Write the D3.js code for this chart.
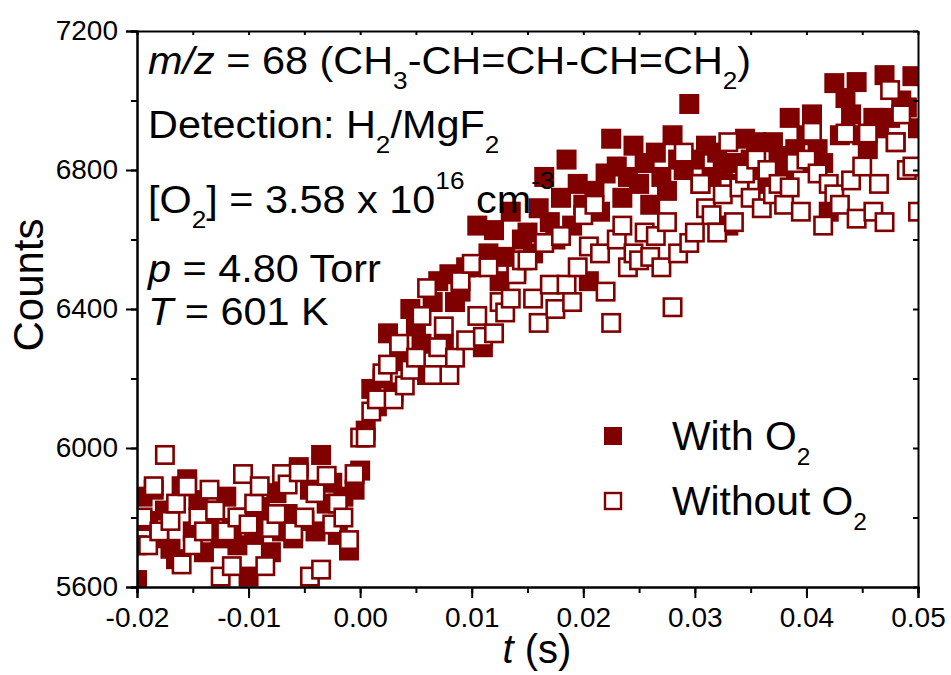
<!DOCTYPE html>
<html>
<head>
<meta charset="utf-8">
<script src="https://cdn.jsdelivr.net/npm/d3@7/dist/d3.min.js"></script>
<style>
  html, body { margin: 0; padding: 0; background: #fff; }
  svg { display: block; font-family: "Liberation Sans", Arial, sans-serif; }
</style>
</head>
<body>
<svg id="chart" width="951" height="675"></svg>
<script>
// ---- data ----
const tStart = -0.02, tStep = 0.0005;   // sample times: tStart + i*tStep
const withO2 = [
  5620, 5860, 5790, 5880, 5740, 5820, 5710, 5680, 5890, 5910,
  5760, 5850, 5700, 5790, 5820, 5740, 5860, 5770, 5720, 5800,
  5630, 5750, 5830, 5780, 5700, 5870, 5760, 5810, 5740, 5945,
  5790, 5880, 5760, 5980, 5840, 5900, 5750, 5860, 5705, 5880,
  5935, 6050, 6170, 6120, 6200, 6330, 6160, 6280, 6250, 6400,
  6350, 6300, 6210, 6420, 6480, 6300, 6500, 6420, 6450, 6520,
  6520, 6640, 6290, 6560, 6627, 6480, 6550, 6680, 6510, 6600,
  6620, 6560, 6690, 6780, 6650, 6600, 6720, 6830, 6640, 6760,
  6700, 6480, 6740, 6680, 6790, 6890, 6810, 6720, 6780, 6870,
  6760, 6820, 6700, 6850, 6780, 6740, 6900, 6830, 6800, 6990,
  6830, 6760, 6870, 6780, 6850, 6800, 6640, 6820, 6760, 6890,
  6830, 6880, 6800, 6760, 6880, 6840, 6790, 6950, 6860, 6820,
  6900, 6960, 6860, 6820, 6680, 7050, 6900, 7007, 6960, 7053,
  6900, 6860, 6950, 6920, 7073, 6950, 6880, 7000, 6980, 7070,
  6920
];
const withoutO2 = [
  5720, 5800, 5720, 5890, 5760, 5980, 5790, 5840, 5665, 5890,
  5720, 5800, 5760, 5880, 5820, 5630, 5760, 5660, 5800, 5925,
  5780, 5840, 5890, 5660, 5770, 5810, 5925, 5895, 5760, 5930,
  5800, 5630, 5870, 5650, 5920, 5780, 5840, 5800, 5735, 5925,
  6030, 6030, 6105, 6140, 6215, 6240, 6140, 6300, 6180, 6225,
  6260, 6380, 6460, 6210, 6290, 6350, 6210, 6260, 6480, 6310,
  6530, 6380, 6320, 6520, 6330, 6420, 6390, 6430, 6500, 6540,
  6540, 6430, 6360, 6590, 6470, 6400, 6610, 6470, 6420, 6520,
  6670, 6580, 6700, 6560, 6450, 6360, 6600, 6640, 6520, 6560,
  6540, 6620, 6550, 6610, 6520, 6650, 6405, 6560, 6850, 6590,
  6620, 6760, 6690, 6670, 6620, 6730, 6880, 6650, 6750, 6790,
  6720, 6830, 6690, 6800, 6730, 6760, 6700, 6750, 6820, 6680,
  6830, 6910, 6790, 6640, 6760, 6730, 6700, 6905, 6770, 6660,
  6810, 6905, 6680, 6760, 6650, 7030, 6880, 6960, 6800, 6810,
  6680
];
const xTicks = [-0.02, -0.01, 0.00, 0.01, 0.02, 0.03, 0.04, 0.05];
const yTicks = [5600, 6000, 6400, 6800, 7200];
const legendLabels = ["With O", "Without O"];

// ---- layout ----
const W = 951, H = 675;
const L = 137, R = 918, T = 31, B = 587;
const color = "#800000";
const svg = d3.select("#chart");

const x = d3.scaleLinear().domain([-0.02, 0.05]).range([L, R]);
const y = d3.scaleLinear().domain([5600, 7200]).range([B, T]);

const toPts = arr => arr.map((v, i) => ({ t: tStart + i * tStep, v }));

svg.append("clipPath").attr("id", "plotclip")
  .append("rect").attr("x", L).attr("y", T).attr("width", R - L).attr("height", B - T);

const plot = svg.append("g").attr("clip-path", "url(#plotclip)");
const S = 20;
plot.selectAll("rect.f").data(toPts(withO2)).join("rect")
  .attr("class", "f")
  .attr("x", d => x(d.t) - S / 2).attr("y", d => y(d.v) - S / 2)
  .attr("width", S).attr("height", S).attr("fill", color);
const S2 = 17.4;
plot.selectAll("rect.h").data(toPts(withoutO2)).join("rect")
  .attr("class", "h")
  .attr("x", d => x(d.t) - S2 / 2).attr("y", d => y(d.v) - S2 / 2)
  .attr("width", S2).attr("height", S2)
  .attr("fill", "#fff").attr("stroke", color).attr("stroke-width", 2.6);

// ---- axes ----
function styleAxis(g) {
  g.selectAll("path.domain").attr("stroke", "#000").attr("stroke-width", 2);
  g.selectAll(".tick line").attr("stroke", "#000").attr("stroke-width", 2);
  g.selectAll(".tick text").attr("fill", "#000")
    .style("font-family", '"Liberation Sans", Arial, sans-serif');
}
const xMinor = d3.range(-0.02, 0.0501, 0.005);
const yMinor = d3.range(5600, 7201, 200);

// bottom
svg.append("g").attr("transform", `translate(0,${B})`)
  .call(d3.axisBottom(x).tickValues(xMinor).tickSize(6).tickFormat(""))
  .call(styleAxis);
svg.append("g").attr("transform", `translate(0,${B})`)
  .call(d3.axisBottom(x).tickValues(xTicks).tickSize(11).tickPadding(9)
    .tickFormat(d => d3.format(".2f")(d).replace("−", "-")))
  .call(styleAxis)
  .call(g => g.selectAll(".tick text").style("font-size", "28px"));
// left
svg.append("g").attr("transform", `translate(${L},0)`)
  .call(d3.axisLeft(y).tickValues(yMinor).tickSize(6).tickFormat(""))
  .call(styleAxis);
svg.append("g").attr("transform", `translate(${L},0)`)
  .call(d3.axisLeft(y).tickValues(yTicks).tickSize(11).tickPadding(8).tickFormat(d3.format("d")))
  .call(styleAxis)
  .call(g => g.selectAll(".tick text").style("font-size", "28px"));
// top
svg.append("g").attr("transform", `translate(0,${T})`)
  .call(d3.axisTop(x).tickValues(xMinor).tickSize(-4).tickFormat("").tickSizeOuter(0))
  .call(styleAxis);
// right
svg.append("g").attr("transform", `translate(${R},0)`)
  .call(d3.axisRight(y).tickValues(yMinor).tickSize(-5).tickFormat("").tickSizeOuter(0))
  .call(styleAxis);

// ---- axis titles ----
svg.append("text").attr("transform", "translate(43,285) rotate(-90)")
  .attr("text-anchor", "middle").style("font-size", "42px").text("Counts");
const xt = svg.append("text").attr("x", 537).attr("y", 663)
  .attr("text-anchor", "middle").style("font-size", "40px");
xt.append("tspan").style("font-style", "italic").text("t");
xt.append("tspan").text(" (s)");

// ---- annotation ----
function rich(xp, yp, parts, fs, sx) {
  const t = svg.append("text").attr("x", 0).attr("y", 0)
    .attr("transform", `translate(${xp},${yp}) scale(${sx || 1},1)`)
    .style("font-size", fs + "px");
  let off = 0;
  parts.forEach(p => {
    const sp = t.append("tspan").text(p.s);
    let target = 0, size = fs;
    if (p.sub) { target = 15; size = 24; }
    if (p.sup) { target = -24; size = 24; }
    sp.attr("dy", target - off).style("font-size", size + "px");
    if (p.i) sp.style("font-style", "italic");
    off = target;
  });
  return t;
}
const AX = 148, FS = 38, SX = 1.09;
rich(AX, 74, [{ s: "m/z", i: true }, { s: " = 68 (CH" }, { s: "3", sub: true },
  { s: "-CH=CH-CH=CH" }, { s: "2", sub: true }, { s: ")" }], FS, SX);
rich(AX, 138, [{ s: "Detection: H" }, { s: "2", sub: true }, { s: "/MgF" }, { s: "2", sub: true }], FS, SX);
rich(AX, 213, [{ s: "[O" }, { s: "2", sub: true }, { s: "] = 3.58 x 10" }, { s: "16", sup: true },
  { s: " cm" }, { s: "-3", sup: true }], FS, SX);
rich(AX, 282, [{ s: "p", i: true }, { s: " = 4.80 Torr" }], FS, SX);
rich(AX, 325, [{ s: "T", i: true }, { s: " = 601 K" }], FS, SX);

// ---- legend ----
const lg = svg.append("g");
lg.append("rect").attr("x", 604).attr("y", 427).attr("width", 18).attr("height", 18).attr("fill", color);
lg.append("rect").attr("x", 605).attr("y", 493).attr("width", 16).attr("height", 16)
  .attr("fill", "#fff").attr("stroke", color).attr("stroke-width", 2.4);
rich(672, 450, [{ s: legendLabels[0] }, { s: "2", sub: true }], 40, 1.02);
rich(672, 515, [{ s: legendLabels[1] }, { s: "2", sub: true }], 40, 1.02);
</script>
</body>
</html>
